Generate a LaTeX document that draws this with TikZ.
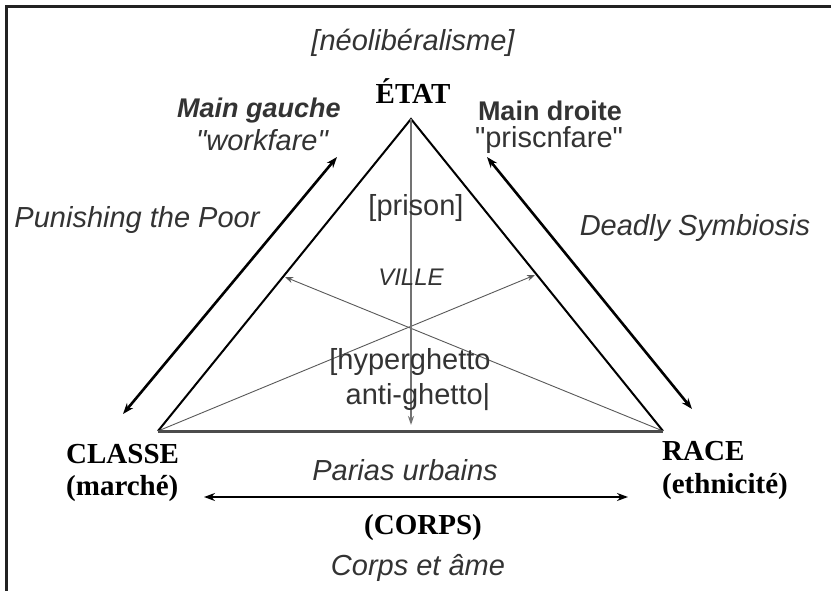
\documentclass[tikz,border=0pt]{standalone}
\usepackage{fontspec}
\setmainfont{Liberation Serif}
\setsansfont{Liberation Sans}
\usetikzlibrary{arrows.meta}
\definecolor{txtgray}{HTML}{333333}
\definecolor{framec}{HTML}{222222}
\tikzset{
  sanslbl/.style={font=\sffamily\fontsize{29}{33}\selectfont, text=txtgray, inner sep=0pt},
  sansit/.style={font=\sffamily\itshape\fontsize{29}{33}\selectfont, text=txtgray, inner sep=0pt},
  seriflbl/.style={font=\rmfamily\bfseries\fontsize{29}{33}\selectfont, text=black, inner sep=0pt},
  side/.style={line width=2pt, black},
  outerarrow/.style={line width=2.6pt, black, {Stealth[length=11pt,width=8pt]}-{Stealth[length=11pt,width=8pt]}},
  thinarrow/.style={line width=0.9pt, black!65, -{Stealth[length=8pt,width=6pt]}},
}
\begin{document}
\begin{tikzpicture}[x=1pt,y=-1pt]
\useasboundingbox (0,0) rectangle (831,591);
\fill[white] (0,0) rectangle (831,591);
% frame
\draw[line width=2.2pt, framec] (6.5,591) -- (6.5,6.5) -- (831,6.5);

% triangle vertices
\coordinate (apex) at (411,119);
\coordinate (lv) at (158,431);
\coordinate (rv) at (663,431);
\coordinate (vend) at (411,425);
\coordinate (ltip) at (285,277);
\coordinate (rtip) at (535,275);

% cross lines
\draw[thinarrow] (rv) -- (ltip);
\draw[thinarrow] (lv) -- (rtip);

% sides
\draw[side] (lv) -- (apex) -- (rv);
\draw[line width=3pt, black!70] (lv) -- (rv);

% vertical arrow
\draw[line width=2pt, black!55, -{Stealth[length=9pt,width=6pt]}] (apex) -- (vend);

% outer arrows
\coordinate (la1) at (123,414);
\coordinate (la2) at (337,157);
\coordinate (ra1) at (487,157);
\coordinate (ra2) at (692,409);
\draw[outerarrow] (la1) -- (la2);
\draw[outerarrow] (ra1) -- (ra2);

% bottom double arrow
\coordinate (ba1) at (204,497);
\coordinate (ba2) at (628,497);
\draw[outerarrow, line width=2.4pt] (ba1) -- (ba2);

% texts
\node[sansit] (neo) at (413,43) {[néolibéralisme]};
\node[seriflbl] (etat) at (413,91) {ÉTAT};
\node[sansit, font=\sffamily\bfseries\itshape\fontsize{27}{31}\selectfont] (maing) at (259,111) {Main gauche};
\node[sansit] (workf) at (262,140) {\textquotedbl workfare\textquotedbl};
\node[sanslbl, font=\sffamily\bfseries\fontsize{27}{31}\selectfont] (maind) at (550,111) {Main droite};
\node[sanslbl] (prisf) at (549,140) {\textquotedbl priscnfare\textquotedbl};
\node[sansit] (punish) at (137,220) {Punishing the Poor};
\node[sansit] (deadly) at (695,228) {Deadly Symbiosis};
\node[sanslbl] (prison) at (416,208) {[prison]};
\node[sansit, font=\sffamily\itshape\fontsize{24}{28}\selectfont] (ville) at (411,277) {VILLE};
\node[sanslbl] (hyper) at (410,362) {[hyperghetto};
\node[sanslbl] (anti) at (418,397) {anti-ghetto|};
\node[seriflbl, anchor=west] (classe) at (66,454) {CLASSE};
\node[seriflbl, anchor=west] (marche) at (66,489) {(marché)};
\node[seriflbl, anchor=west] (race) at (662,451) {RACE};
\node[seriflbl, anchor=west] (ethn) at (662,487) {(ethnicité)};
\node[sansit] (paria) at (405,470) {Parias urbains};
\node[seriflbl] (corps) at (423,528) {(CORPS)};
\node[sansit] (ame) at (418,568) {Corps et âme};
\end{tikzpicture}
\end{document}
